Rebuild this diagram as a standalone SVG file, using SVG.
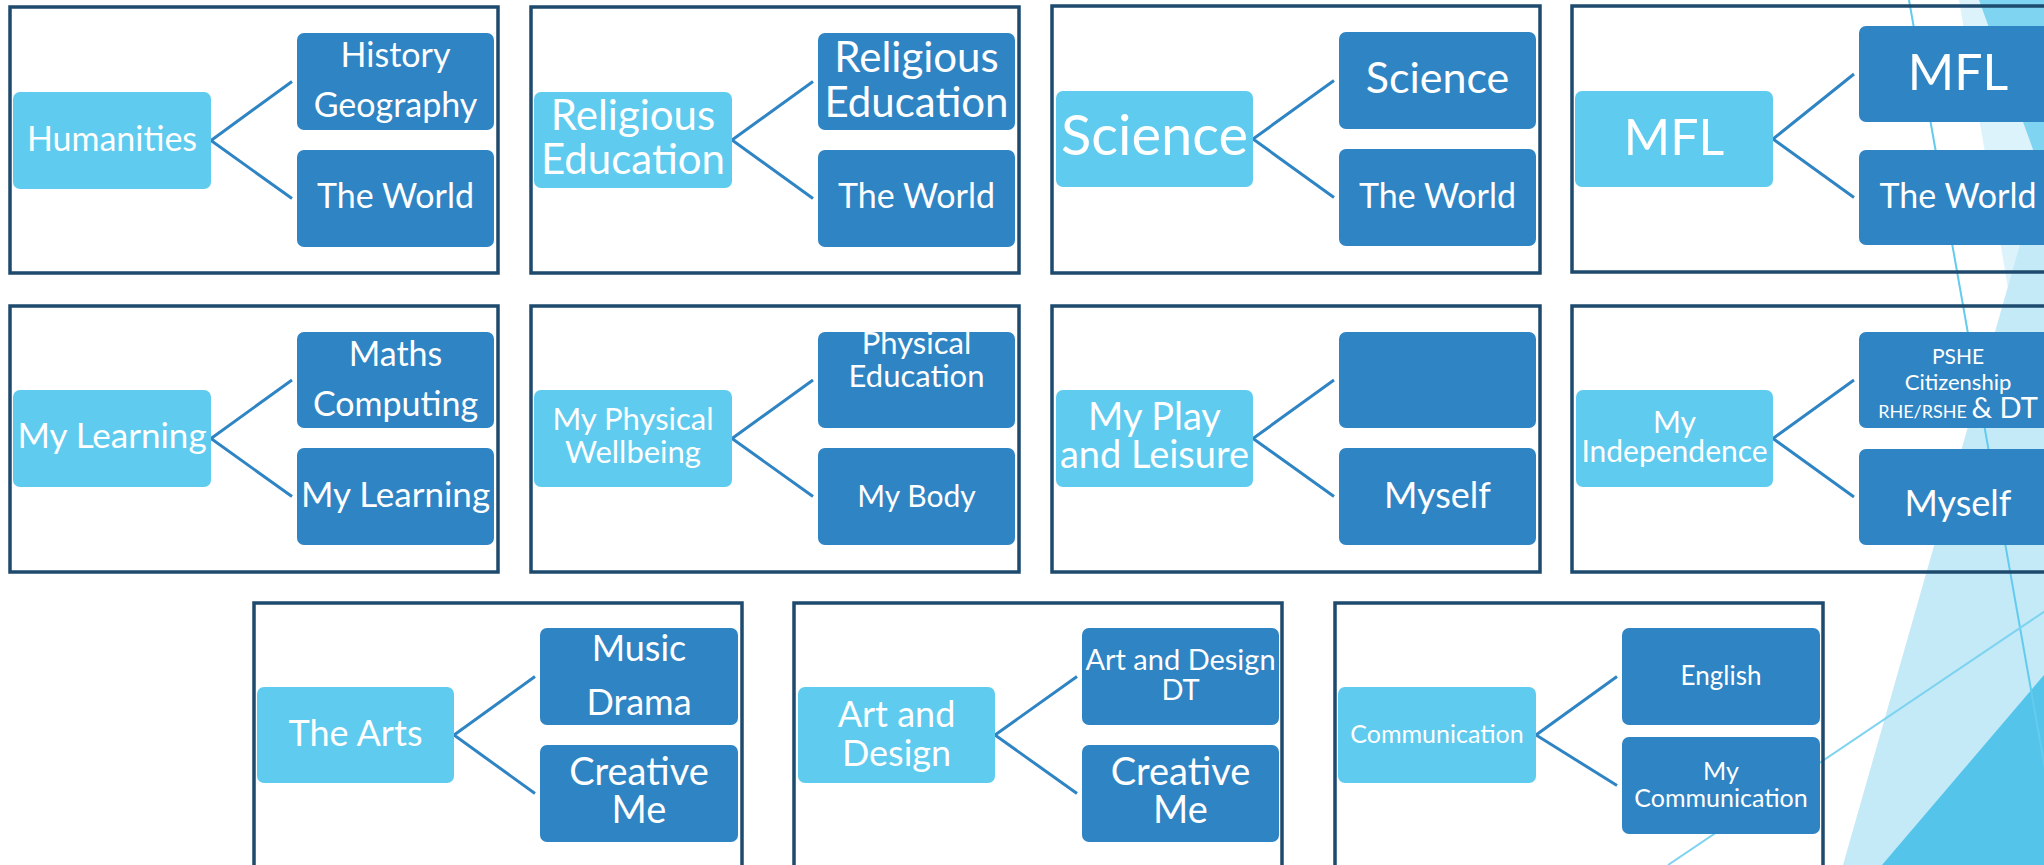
<svg xmlns="http://www.w3.org/2000/svg" width="2044" height="865" viewBox="0 0 2044 865">
<style>
.panel{fill:none;stroke:#1E4A6D;stroke-width:3.5}
.par{fill:#5ECBEF}
.chd{fill:#2F84C4}
.conn{stroke:#2F84C4;stroke-width:3;fill:none}
text{font-family:Lato,"Open Sans","DejaVu Sans",sans-serif;fill:#FFFFFF;text-anchor:middle}
.deco{stroke-width:2;fill:none}
</style>
<rect x="0" y="0" width="2044" height="865" fill="#FFFFFF"/>
<g id="background">
<polygon points="1959,0 2044,0 2044,500" fill="#DDF3FB"/>
<polygon points="1843,865 2044,160 2044,865" fill="#C4EAF8"/>
<polygon points="1979,0 2044,0 2044,180" fill="#7FD4F1"/>
<polygon points="1882,865 2044,675 2044,865" fill="#55C4EA"/>
<line class="deco" x1="1909" y1="0" x2="2062" y2="865" stroke="#62CBEE"/>
<line class="deco" x1="1668" y1="865" x2="2060" y2="601" stroke="#7DD3F0"/>
</g>

<g id="connectors">
<polyline class="conn" points="292,81.5 211,140.5 292,198.5"/>
<polyline class="conn" points="813,81.5 732,140 813,198.5"/>
<polyline class="conn" points="1334,80.5 1253,139 1334,197.5"/>
<polyline class="conn" points="1854,74 1773,139 1854,197.5"/>
<polyline class="conn" points="292,380 211,438.5 292,496.5"/>
<polyline class="conn" points="813,380 732,438.5 813,496.5"/>
<polyline class="conn" points="1334,380 1253,438.5 1334,496.5"/>
<polyline class="conn" points="1854,380 1773,438.5 1854,497"/>
<polyline class="conn" points="535,676.5 454,735 535,793.5"/>
<polyline class="conn" points="1077,676.5 995,735 1077,793.5"/>
<polyline class="conn" points="1617,676.5 1536,735 1617,785.5"/>
</g>

<!-- Row 1 -->
<g id="panel-humanities">
<rect class="panel" x="10" y="7" width="488" height="266"/>
<g id="humanities"><rect class="par" x="13" y="92" width="198" height="97" rx="7"/><text x="112" y="151" font-size="34">Humanities</text></g>
<g id="history-geography"><rect class="chd" x="297" y="33" width="197" height="97" rx="7"/><text x="395.5" y="67" font-size="34">History</text><text x="395.5" y="117" font-size="34">Geography</text></g>
<g id="the-world-1"><rect class="chd" x="297" y="150" width="197" height="97" rx="7"/><text x="395.5" y="208" font-size="34">The World</text></g>
</g>

<g id="panel-religious-education">
<rect class="panel" x="531" y="7" width="488" height="266"/>
<g id="religious-education"><rect class="par" x="534" y="92" width="198" height="96" rx="7"/><text x="633" y="130" font-size="42">Religious</text><text x="633" y="174" font-size="42">Education</text></g>
<g id="religious-education-child"><rect class="chd" x="818" y="33" width="197" height="97" rx="7"/><text x="916.5" y="72" font-size="42">Religious</text><text x="916.5" y="117" font-size="42">Education</text></g>
<g id="the-world-2"><rect class="chd" x="818" y="150" width="197" height="97" rx="7"/><text x="916.5" y="208" font-size="34">The World</text></g>
</g>

<g id="panel-science">
<rect class="panel" x="1052" y="6" width="488" height="267"/>
<g id="science"><rect class="par" x="1056" y="91" width="197" height="96" rx="7"/><text x="1154.5" y="155" font-size="56">Science</text></g>
<g id="science-child"><rect class="chd" x="1339" y="32" width="197" height="97" rx="7"/><text x="1437.5" y="93" font-size="43">Science</text></g>
<g id="the-world-3"><rect class="chd" x="1339" y="149" width="197" height="97" rx="7"/><text x="1437.5" y="208" font-size="34">The World</text></g>
</g>

<g id="panel-mfl">
<rect class="panel" x="1572" y="6" width="488" height="266"/>
<g id="mfl"><rect class="par" x="1575" y="91" width="198" height="96" rx="7"/><text x="1674" y="155" font-size="50">MFL</text></g>
<g id="mfl-child"><rect class="chd" x="1859" y="26" width="198" height="96" rx="7"/><text x="1958" y="90" font-size="50">MFL</text></g>
<g id="the-world-4"><rect class="chd" x="1859" y="150" width="198" height="95" rx="7"/><text x="1958" y="208" font-size="34">The World</text></g>
</g>

<!-- Row 2 -->
<g id="panel-my-learning">
<rect class="panel" x="10" y="306" width="488" height="266"/>
<g id="my-learning"><rect class="par" x="13" y="390" width="198" height="97" rx="7"/><text x="112" y="448" font-size="35">My Learning</text></g>
<g id="maths-computing"><rect class="chd" x="297" y="332" width="197" height="96" rx="7"/><text x="395.5" y="366" font-size="34">Maths</text><text x="395.5" y="416" font-size="34">Computing</text></g>
<g id="my-learning-child"><rect class="chd" x="297" y="448" width="197" height="97" rx="7"/><text x="395.5" y="507" font-size="35">My Learning</text></g>
</g>

<g id="panel-my-physical-wellbeing">
<rect class="panel" x="531" y="306" width="488" height="266"/>
<g id="my-physical-wellbeing"><rect class="par" x="534" y="390" width="198" height="97" rx="7"/><text x="633" y="430" font-size="31">My Physical</text><text x="633" y="463" font-size="31">Wellbeing</text></g>
<g id="physical-education"><rect class="chd" x="818" y="332" width="197" height="96" rx="7"/><text x="916.5" y="354" font-size="31">Physical</text><text x="916.5" y="387" font-size="31">Education</text></g>
<g id="my-body"><rect class="chd" x="818" y="448" width="197" height="97" rx="7"/><text x="916.5" y="507" font-size="30">My Body</text></g>
</g>

<g id="panel-my-play">
<rect class="panel" x="1052" y="306" width="488" height="266"/>
<g id="my-play-and-leisure"><rect class="par" x="1056" y="390" width="197" height="97" rx="7"/><text x="1154.5" y="430" font-size="38">My Play</text><text x="1154.5" y="468" font-size="38">and Leisure</text></g>
<g id="empty-child"><rect class="chd" x="1339" y="332" width="197" height="96" rx="7"/></g>
<g id="myself-1"><rect class="chd" x="1339" y="448" width="197" height="97" rx="7"/><text x="1437.5" y="508" font-size="36">Myself</text></g>
</g>

<g id="panel-my-independence">
<rect class="panel" x="1572" y="306" width="488" height="266"/>
<g id="my-independence"><rect class="par" x="1576" y="390" width="197" height="97" rx="7"/><text x="1674.5" y="433" font-size="30">My</text><text x="1674.5" y="462" font-size="30">Independence</text></g>
<g id="pshe"><rect class="chd" x="1859" y="332" width="198" height="96" rx="7"/><text x="1958" y="364" font-size="21">PSHE</text><text x="1958" y="390" font-size="22">Citizenship</text><text x="1958" y="418"><tspan font-size="18">RHE/RSHE </tspan><tspan font-size="29">&amp; DT</tspan></text></g>
<g id="myself-2"><rect class="chd" x="1859" y="449" width="198" height="96" rx="7"/><text x="1958" y="516" font-size="36">Myself</text></g>
</g>

<!-- Row 3 -->
<g id="panel-the-arts">
<rect class="panel" x="254" y="603" width="488" height="266"/>
<g id="the-arts"><rect class="par" x="257" y="687" width="197" height="96" rx="7"/><text x="355.5" y="746" font-size="36">The Arts</text></g>
<g id="music-drama"><rect class="chd" x="540" y="628" width="198" height="97" rx="7"/><text x="639" y="661" font-size="36">Music</text><text x="639" y="715" font-size="36">Drama</text></g>
<g id="creative-me-1"><rect class="chd" x="540" y="745" width="198" height="97" rx="7"/><text x="639" y="785" font-size="38">Creative</text><text x="639" y="823" font-size="38">Me</text></g>
</g>

<g id="panel-art-and-design">
<rect class="panel" x="794" y="603" width="488" height="266"/>
<g id="art-and-design"><rect class="par" x="798" y="687" width="197" height="96" rx="7"/><text x="896.5" y="727" font-size="36">Art and</text><text x="896.5" y="766" font-size="36">Design</text></g>
<g id="art-and-design-dt"><rect class="chd" x="1082" y="628" width="197" height="97" rx="7"/><text x="1180.5" y="670" font-size="29">Art and Design</text><text x="1180.5" y="700" font-size="29">DT</text></g>
<g id="creative-me-2"><rect class="chd" x="1082" y="745" width="197" height="97" rx="7"/><text x="1180.5" y="785" font-size="38">Creative</text><text x="1180.5" y="823" font-size="38">Me</text></g>
</g>

<g id="panel-communication">
<rect class="panel" x="1335" y="603" width="488" height="266"/>
<g id="communication"><rect class="par" x="1338" y="687" width="198" height="96" rx="7"/><text x="1437" y="743" font-size="25">Communication</text></g>
<g id="english"><rect class="chd" x="1622" y="628" width="198" height="97" rx="7"/><text x="1721" y="685" font-size="26">English</text></g>
<g id="my-communication"><rect class="chd" x="1622" y="737" width="198" height="97" rx="7"/><text x="1721" y="780" font-size="25">My</text><text x="1721" y="807" font-size="25">Communication</text></g>
</g>
</svg>
